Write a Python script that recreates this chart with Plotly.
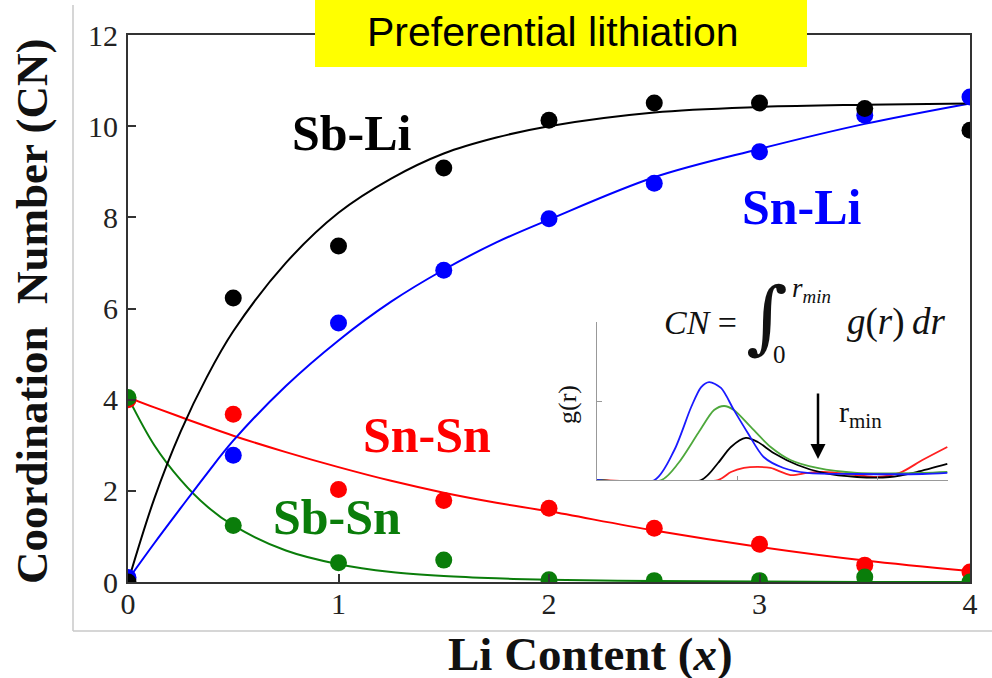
import plotly.graph_objects as go

# ---------------- data ----------------
x_pts = [0, 0.5, 1, 1.5, 2, 2.5, 3, 3.5, 4]
sb_li_pts = [0.0, 6.23, 7.37, 9.08, 10.13, 10.51, 10.51, 10.39, 9.91]
sn_li_pts = [0.1, 2.78, 5.68, 6.84, 7.97, 8.75, 9.44, 10.24, 10.64]
sn_sn_pts = [4.0, 3.68, 2.03, 1.79, 1.62, 1.18, 0.83, 0.37, 0.22]
sb_sn_pts = [4.05, 1.24, 0.42, 0.48, 0.05, 0.03, 0.03, 0.11, 0.0]

x_fit = [0, 0.125, 0.25, 0.375, 0.5, 0.75, 1, 1.25, 1.5, 1.75, 2, 2.5, 3, 3.5, 4]
sb_li_fit = [0.0, 1.83, 3.3, 4.5, 5.5, 7.0, 8.1, 8.85, 9.4, 9.75, 10.0, 10.3, 10.42, 10.47, 10.5]
sn_li_fit = [0.05, 0.85, 1.62, 2.38, 3.1, 4.3, 5.3, 6.15, 6.85, 7.45, 7.95, 8.88, 9.5, 10.05, 10.5]
sn_sn_fit = [4.05, 3.83, 3.62, 3.41, 3.21, 2.85, 2.52, 2.22, 1.96, 1.74, 1.55, 1.13, 0.77, 0.47, 0.24]
sb_sn_fit = [4.05, 3.0, 2.24, 1.66, 1.24, 0.69, 0.39, 0.22, 0.13, 0.08, 0.05, 0.02, 0.01, 0.0, 0.0]

# inset g(r) curves
r_blue = [0, 0.41, 0.551, 0.671, 0.742, 0.799, 0.883, 0.975, 1.074, 1.187, 1.329, 1.498, 1.852, 2.318, 2.495]
g_blue = [0, 0, 0.38, 0.924, 1.177, 1.24, 1.165, 0.886, 0.595, 0.291, 0.152, 0.089, 0.076, 0.076, 0.089]
r_green = [0, 0.459, 0.58, 0.721, 0.834, 0.905, 0.975, 1.095, 1.237, 1.378, 1.569, 1.852, 2.318, 2.495]
g_green = [0, 0, 0.215, 0.595, 0.886, 0.937, 0.886, 0.671, 0.418, 0.253, 0.152, 0.089, 0.089, 0.101]
r_black = [0, 0.742, 0.862, 0.954, 1.06, 1.145, 1.258, 1.428, 1.611, 1.852, 2.085, 2.276, 2.495]
g_black = [0, 0, 0.215, 0.418, 0.532, 0.481, 0.342, 0.19, 0.089, 0.038, 0.038, 0.101, 0.203]
r_red = [0, 0.862, 0.954, 1.046, 1.145, 1.237, 1.378, 1.498, 1.611, 1.852, 1.993, 2.155, 2.318, 2.495]
g_red = [0, 0, 0.101, 0.152, 0.165, 0.152, 0.063, 0.089, 0.101, 0.063, 0.038, 0.089, 0.253, 0.418]

series_names = ["Sb-Li", "Sn-Li", "Sn-Sn", "Sb-Sn"]

# ---------------- styling ----------------
W, H = 992, 678
L, R, T, B = 128, 22, 35, 96
PW, PH = W - L - R, H - T - B


def px(xp):
    return (xp - L) / PW


def py(yp):
    return (H - B - yp) / PH


BLACK, BLUE, RED, GREEN = "#000000", "#0000ff", "#ff0000", "#0a7d0a"
SERIF = "Liberation Serif, Times New Roman, serif"
AX = "#333333"

fig = go.Figure()

# fitted curves
for yv, c in [(sn_sn_fit, RED), (sb_sn_fit, GREEN), (sn_li_fit, BLUE), (sb_li_fit, BLACK)]:
    fig.add_trace(go.Scatter(x=x_fit, y=yv, mode="lines", line=dict(color=c, width=2, shape="spline"),
                             showlegend=False, hoverinfo="skip"))

# data points
for yv, c, n in [(sn_sn_pts, RED, series_names[2]), (sb_sn_pts, GREEN, series_names[3]),
                 (sn_li_pts, BLUE, series_names[1]), (sb_li_pts, BLACK, series_names[0])]:
    fig.add_trace(go.Scatter(x=x_pts, y=yv, mode="markers", name=n,
                             marker=dict(color=c, size=17, line=dict(width=0)), showlegend=False))

# inset curves
for rr, gg, c in [(r_red, g_red, "#ff2020"), (r_black, g_black, "#000000"),
                  (r_green, g_green, "#4ea83c"), (r_blue, g_blue, "#1a1aff")]:
    fig.add_trace(go.Scatter(x=rr, y=gg, mode="lines", xaxis="x2", yaxis="y2",
                             line=dict(color=c, width=1.8, shape="spline", smoothing=0.8),
                             showlegend=False, hoverinfo="skip"))

fig.update_layout(
    width=W, height=H,
    margin=dict(l=L, r=R, t=T, b=B),
    paper_bgcolor="white", plot_bgcolor="white",
    font=dict(family=SERIF, color="#111111"),
    xaxis=dict(range=[0, 4], tickvals=[0, 1, 2, 3, 4], ticks="inside", ticklen=8, tickwidth=2,
               tickcolor=AX, showline=True, linewidth=2.2, linecolor=AX, mirror=True,
               ticklabelstandoff=-6,
               showgrid=False, zeroline=False, tickfont=dict(size=30, family=SERIF, color="#222")),
    yaxis=dict(range=[0, 12], tickvals=[0, 2, 4, 6, 8, 10, 12], ticks="inside", ticklen=8, tickwidth=2,
               tickcolor=AX, showline=True, linewidth=2.2, linecolor=AX, mirror=True,
               ticklabelstandoff=2,
               showgrid=False, zeroline=False, tickfont=dict(size=30, family=SERIF, color="#222")),
    xaxis2=dict(domain=[px(597), px(948)], anchor="y2", range=[0, 2.5], dtick=1, ticks="inside",
                ticklen=4, tickwidth=1, tickcolor="#999", showline=True, linewidth=1.2, linecolor="#999",
                showticklabels=False, showgrid=False, zeroline=False),
    yaxis2=dict(domain=[py(480), py(322)], anchor="x2", range=[0, 2.0], dtick=1, ticks="inside",
                ticklen=5, tickwidth=1, tickcolor="#999", showline=True, linewidth=1.2, linecolor="#999",
                showticklabels=False, showgrid=False, zeroline=False),
)

shapes = [
    # light grey outer frame (left and bottom)
    dict(type="line", xref="paper", yref="paper", x0=px(73), x1=px(73), y0=py(5), y1=py(631),
         line=dict(color="#c8c8c8", width=1.5), layer="below"),
    dict(type="line", xref="paper", yref="paper", x0=px(73), x1=px(995), y0=py(631), y1=py(631),
         line=dict(color="#c8c8c8", width=1.5), layer="below"),
    # yellow title box
    dict(type="rect", xref="paper", yref="paper", x0=px(315), x1=px(807), y0=py(67), y1=py(-2),
         fillcolor="#ffff00", line=dict(width=0), layer="above"),
]
fig.update_layout(shapes=shapes)

ann = []


def label(text, xp, yp, size, color="#000000", family=SERIF, angle=0, xanchor="center"):
    ann.append(dict(text=text, x=px(xp), y=py(yp), xref="paper", yref="paper", showarrow=False,
                    xanchor=xanchor, yanchor="middle", textangle=angle,
                    font=dict(size=size, color=color, family=family)))


label("Preferential lithiation", 552, 32, 41, family="Liberation Sans, Arial, sans-serif")
label("<b>Sb-Li</b>", 352, 133, 50, BLACK)
label("<b>Sn-Li</b>", 802, 207, 50, BLUE)
label("<b>Sn-Sn</b>", 427, 435, 50, RED)
label("<b>Sb-Sn</b>", 337, 517, 50, GREEN)
label("<b>Li Content (<i>x</i>)</b>", 590, 654, 47, "#111")
label("<b>Coordination\u00a0 Number (CN)</b>", 32, 312, 45, "#111", angle=-90)
label("g(r)", 567, 405, 26, "#111", angle=-90)
# formula
label("<i>CN</i> =", 700, 322, 34, "#111")
label("\u222b", 767, 316, 80, "#111", family="DejaVu Serif, serif")
label("<i>r</i><sub><i>min</i></sub>", 811, 290, 27, "#111")
label("0", 779, 354, 25, "#111")
label("<i>g</i>(<i>r</i>)\u2009<i>dr</i>", 896, 322, 37, "#111")
# r_min marker
label("r<sub>min</sub>", 860, 414, 30, "#111")
ann.append(dict(x=px(818), y=py(459), ax=0, ay=-67, xref="paper", yref="paper",
                axref="pixel", ayref="pixel", showarrow=True, arrowhead=2, arrowsize=1.2,
                arrowwidth=2.5, arrowcolor="#000", text=""))

fig.update_layout(annotations=ann)

fig.write_html("out.html", config={"displayModeBar": False},
               post_script="document.body.style.margin='0';document.body.style.overflow='hidden';")
